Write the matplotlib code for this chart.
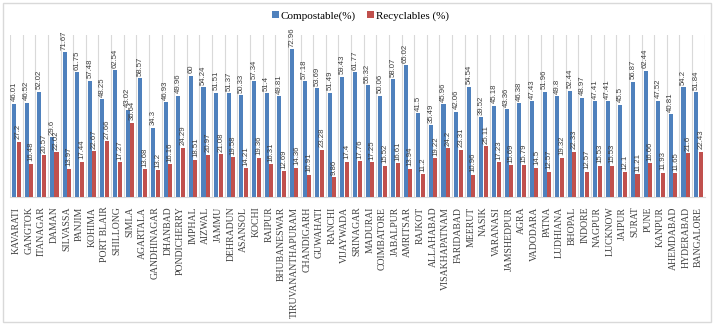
import numpy as np
import matplotlib
matplotlib.use("Agg")
import matplotlib.pyplot as plt
from matplotlib.patches import Rectangle

cities = ["KAVARATI", "GANGTOK", "ITANAGAR", "DAMAN", "SILVASSA", "PANJIM", "KOHIMA",
          "PORT BLAIR", "SHILLONG", "SIMLA", "AGARTALA", "GANDHINAGAR", "DHANBAD",
          "PONDICHERRY", "IMPHAL", "AIZWAL", "JAMMU", "DEHRADUN", "ASANSOL", "KOCHI",
          "RAIPUR", "BHUBANESWAR", "TIRUVANANTHAPURAM", "CHANDIGARH", "GUWAHATI",
          "RANCHI", "VIJAYWADA", "SRINAGAR", "MADURAI", "COIMBATORE", "JABALPUR",
          "AMRITSAR", "RAJKOT", "ALLAHABAD", "VISAKHAPATNAM", "FARIDABAD", "MEERUT",
          "NASIK", "VARANASI", "JAMSHEDPUR", "AGRA", "VADODARA", "PATNA", "LUDHIANA",
          "BHOPAL", "INDORE", "NAGPUR", "LUCKNOW", "JAIPUR", "SURAT", "PUNE", "KANPUR",
          "AHEMDABAD", "HYDERABAD", "BANGALORE"]

compostable = [46.01, 46.52, 52.02, 29.6, 71.67, 61.75, 57.48, 48.25, 62.54, 43.02,
               58.57, 34.3, 46.93, 49.96, 60, 54.24, 51.51, 51.37, 50.33, 57.34,
               51.4, 49.81, 72.96, 57.18, 53.69, 51.49, 59.43, 61.77, 55.32, 50.06,
               58.07, 65.02, 41.5, 35.49, 45.96, 42.06, 54.54, 39.52, 45.18, 43.36,
               46.38, 47.43, 51.96, 49.8, 52.44, 48.97, 47.41, 47.41, 45.5, 56.87,
               62.44, 47.52, 40.81, 54.2, 51.84]

recyclables = [27.2, 16.48, 20.57, 22.02, 13.97, 17.44, 22.67, 27.66, 17.27, 36.64,
               13.68, 13.2, 16.16, 24.29, 18.51, 20.97, 21.08, 19.58, 14.21, 19.36,
               16.31, 12.69, 14.36, 10.91, 23.28, 9.86, 17.4, 17.76, 17.25, 15.52,
               16.61, 13.94, 11.2, 19.22, 24.2, 23.31, 10.96, 25.11, 17.23, 15.69,
               15.79, 14.5, 12.57, 19.32, 22.33, 12.57, 15.53, 15.53, 12.1, 11.21,
               16.66, 11.93, 11.65, 21.6, 22.43]

blue = "#4F81BD"
red = "#C0504D"

fig = plt.figure(figsize=(7.14, 3.25), dpi=100)
fig.patches.append(Rectangle((0.004, 0.008), 0.992, 0.984, transform=fig.transFigure,
                             fill=False, edgecolor="#D9D9D9", linewidth=1.0))
ax = fig.add_axes([0.014, 0.394, 0.973, 0.498])

x = np.arange(len(cities))
w = 0.32
b1 = ax.bar(x - w / 2 - 0.02, compostable, w, color=blue, label="Compostable(%)", zorder=3)
b2 = ax.bar(x + w / 2 + 0.02, recyclables, w, color=red, label="Recyclables (%)", zorder=3)

# value labels, rotated, just above each bar
for bars, vals in ((b1, compostable), (b2, recyclables)):
    for r, v in zip(bars, vals):
        ax.text(r.get_x() + r.get_width() / 2, v + 1.2, f"{v:g}", rotation=90,
                ha="center", va="bottom", fontsize=5.6, color="#404040",
                family="Liberation Sans")

ax.set_xlim(-0.5, len(cities) - 0.5)
ax.set_ylim(0, 80)
for b in np.arange(-0.5, len(cities), 1.0):
    ax.axvline(b, color="#D9D9D9", linewidth=0.8, zorder=1)

ax.set_yticks([])
ax.set_xticks(x)
ax.set_xticklabels(cities, rotation=90, fontsize=7.0, family="Liberation Serif",
                   color="#404040")
ax.tick_params(axis="x", length=0, pad=7)
for s in ("top", "left", "right"):
    ax.spines[s].set_visible(False)
ax.spines["bottom"].set_color("#D9D9D9")

fig.legend(handles=[b1, b2], loc="center", bbox_to_anchor=(0.505, 0.95), ncol=2,
           frameon=False, prop={"family": "Liberation Serif", "size": 8},
           handlelength=0.6, handleheight=0.6, handletextpad=0.2, columnspacing=1.0)

fig.savefig("out.png", dpi=100)
